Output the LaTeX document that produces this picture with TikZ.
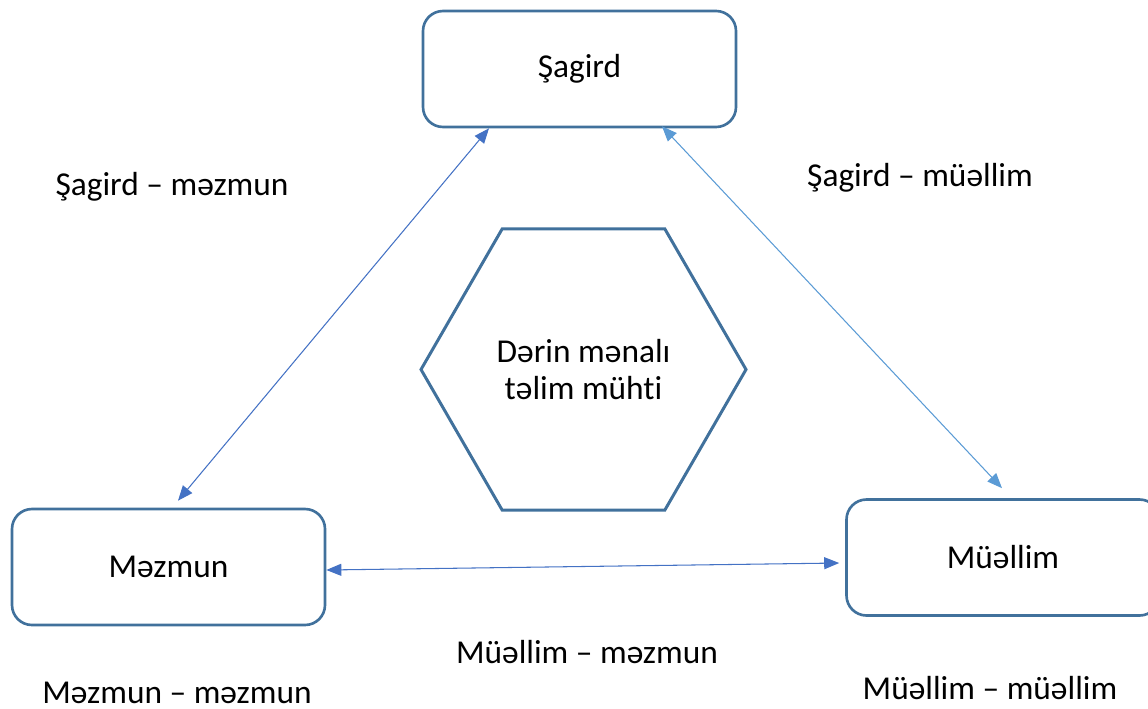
\documentclass[tikz,border=0pt]{standalone}
\usepackage{fontspec}
\setmainfont{Carlito}[Ligatures=NoCommon]
\usetikzlibrary{shapes.geometric,arrows.meta}

\definecolor{boxline}{HTML}{41719C}
\definecolor{linkdark}{HTML}{4472C4}
\definecolor{linklight}{HTML}{5B9BD5}

\tikzset{
  role/.style={draw=boxline, line width=1.5pt, rounded corners=0.4cm,
    minimum width=6.26cm, minimum height=2.32cm, font=\fontsize{19}{21}\selectfont},
  env/.style={draw=boxline, line width=1.7pt, regular polygon, regular polygon sides=6,
    minimum size=6.5cm, inner sep=0pt, align=center,
    font=\fontsize{19}{21}\selectfont},
  pair/.style={font=\fontsize{19}{21}\selectfont},
  link/.style={{Triangle[length=0.3cm,width=0.24cm]}-{Triangle[length=0.3cm,width=0.24cm]},
    line width=0.6pt}
}

\begin{document}
\begin{tikzpicture}
  \useasboundingbox (0,0) rectangle (22.96,14.16);
  \node[role] (sag) at (11.59,12.78) {Şagird};
  \node[role] (mez) at (3.37,2.82) {Məzmun};
  \node[role] (mue) at (20.06,3.01) {Müəllim};
  \node[env] (muh) at (11.67,6.77) {Dərin mənalı\\təlim mühti};

  \node[pair] (sagmez) at (3.44,10.42) {Şagird – məzmun};
  \node[pair] (sagmue) at (18.4,10.6) {Şagird – müəllim};
  \node[pair] (muemez) at (11.74,1.12) {Müəllim – məzmun};
  \node[pair] (mezmez) at (3.54,0.30) {Məzmun – məzmun};
  \node[pair] (muemue) at (19.8,0.40) {Müəllim – müəllim};

  \draw [link, linkdark] ([xshift=-1.81cm]sag.south) -- ([xshift=0.19cm,yshift=0.14cm]mez.north);
  \draw [link, linklight] ([xshift=1.65cm,yshift=0.04cm]sag.south) -- ([xshift=-0.02cm,yshift=0.2cm]mue.north);
  \draw [link, linkdark] ([yshift=-0.06cm]mez.east) -- ([xshift=-0.12cm,yshift=-0.11cm]mue.west);
\end{tikzpicture}
\end{document}
